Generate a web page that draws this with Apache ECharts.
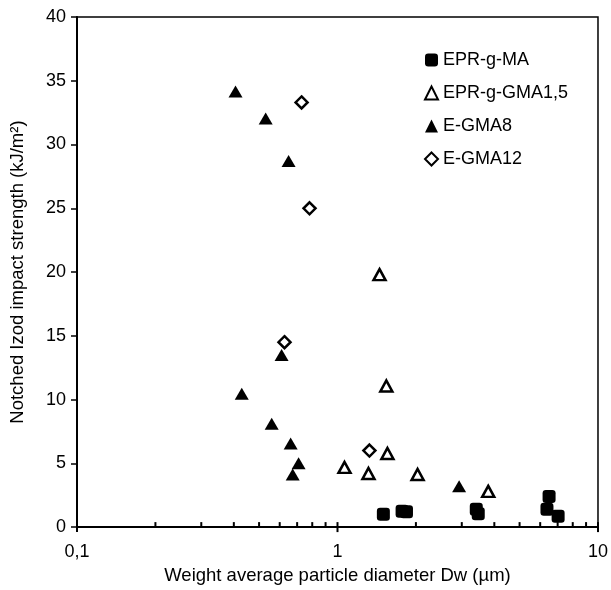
<!DOCTYPE html>
<html>
<head>
<meta charset="utf-8">
<script src="https://cdn.jsdelivr.net/npm/echarts@6/dist/echarts.min.js"></script>
<style>html,body{margin:0;padding:0;background:#fff;}#c{width:611px;height:590px;}</style>
</head>
<body>
<div id="c"></div>
<script>
// Data: [Dw (µm), impact strength (kJ/m²)]
const seriesNames = ['EPR-g-MA', 'EPR-g-GMA1,5', 'E-GMA8', 'E-GMA12'];
const eprGMA = [[1.50,1.0],[1.77,1.25],[1.84,1.2],[3.41,1.4],[3.47,1.05],[6.37,1.4],[6.49,2.4],[7.03,0.86]];
const eprGGMA15 = [[1.064,4.68],[1.315,4.2],[1.45,19.8],[1.54,11.07],[1.555,5.77],[2.03,4.13],[3.79,2.8]];
const eGMA8 = [[0.406,34.15],[0.530,32.05],[0.649,28.7],[0.610,13.5],[0.429,10.45],[0.559,8.1],[0.661,6.55],[0.709,5.0],[0.673,4.13],[2.93,3.2]];
const eGMA12 = [[0.728,33.3],[0.781,25.0],[0.626,14.5],[1.326,6.0]];
const xMajorTicks = [0.1, 1, 10];
const xMinorTicks = [0.2,0.3,0.4,0.5,0.6,0.7,0.8,0.9,2,3,4,5,6,7,8,9];

const FONT = '"Liberation Sans", Arial, sans-serif';
const FS = 18;
const FT = 18.5;
const chart = echarts.init(document.getElementById('c'), null, {renderer: 'canvas'});

const tickData = xMinorTicks.map(v => [v, 0, 0]).concat(xMajorTicks.map(v => [v, 0, 1]));

chart.setOption({
  animation: false,
  backgroundColor: '#fff',
  textStyle: {fontFamily: FONT},
  grid: {left: 77, right: 12, top: 17, bottom: 60, show: true, borderColor: '#000', borderWidth: 1.5, backgroundColor: 'transparent'},
  legend: {
    orient: 'vertical', left: 419, top: 46,
    itemWidth: 13, itemHeight: 13, itemGap: 15,
    data: seriesNames,
    textStyle: {fontFamily: FONT, fontSize: FS, color: '#000'}
  },
  xAxis: {
    type: 'log', logBase: 10, min: 0.1, max: 10,
    name: 'Weight average particle diameter Dw (µm)',
    nameLocation: 'middle', nameGap: 38,
    nameTextStyle: {fontFamily: FONT, fontSize: FT, color: '#000'},
    axisLine: {lineStyle: {color: '#000', width: 2}},
    axisTick: {show: false},
    splitLine: {show: false},
    axisLabel: {fontFamily: FONT, fontSize: FS, color: '#000', margin: 16,
      formatter: v => String(v).replace('.', ',')}
  },
  yAxis: {
    type: 'value', min: 0, max: 40, interval: 5,
    name: 'Notched Izod impact strength (kJ/m²)',
    nameLocation: 'middle', nameGap: 50,
    nameTextStyle: {fontFamily: FONT, fontSize: FT, color: '#000'},
    axisLine: {show: true, lineStyle: {color: '#000', width: 2}},
    axisTick: {show: true, inside: false, length: 6, lineStyle: {color: '#000', width: 1.5}},
    splitLine: {show: false},
    axisLabel: {fontFamily: FONT, fontSize: FS, color: '#000', margin: 11}
  },
  series: [
    {name: seriesNames[0], type: 'scatter', data: eprGMA, symbol: 'roundRect', symbolSize: 13,
     itemStyle: {color: '#000', opacity: 1}, z: 5},
    {name: seriesNames[1], type: 'scatter', data: eprGGMA15, symbol: 'triangle', symbolSize: [12, 11],
     itemStyle: {color: '#fff', borderColor: '#000', borderWidth: 2.5, opacity: 1}, z: 5},
    {name: seriesNames[2], type: 'scatter', data: eGMA8, symbol: 'triangle', symbolSize: [14, 12],
     itemStyle: {color: '#000', opacity: 1}, z: 5},
    {name: seriesNames[3], type: 'scatter', data: eGMA12, symbol: 'diamond', symbolSize: [12, 12],
     itemStyle: {color: '#fff', borderColor: '#000', borderWidth: 2.5, opacity: 1}, z: 5},
    {
      type: 'custom', silent: true, clip: false, z: 10,
      data: tickData,
      renderItem: function (params, api) {
        const p = api.coord([api.value(0), api.value(1)]);
        const major = api.value(2) === 1;
        return {
          type: 'line',
          shape: {x1: p[0], y1: major ? p[1] + 5 : p[1], x2: p[0], y2: p[1] - 5},
          style: {stroke: '#000', lineWidth: 2}
        };
      }
    }
  ]
});
</script>
</body>
</html>
